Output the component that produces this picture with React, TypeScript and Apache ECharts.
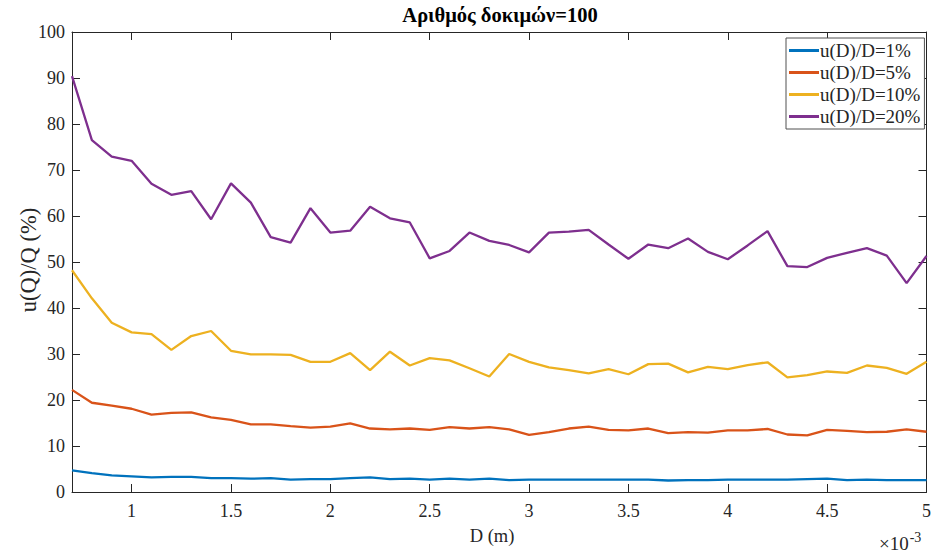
import React, { useEffect, useRef } from "react";
import * as echarts from "echarts";

const xValues = [0.7, 0.8, 0.9, 1.0, 1.1, 1.2, 1.3, 1.4, 1.5, 1.6, 1.7, 1.8, 1.9, 2.0, 2.1, 2.2, 2.3, 2.4, 2.5, 2.6, 2.7, 2.8, 2.9, 3.0, 3.1, 3.2, 3.3, 3.4, 3.5, 3.6, 3.7, 3.8, 3.9, 4.0, 4.1, 4.2, 4.3, 4.4, 4.5, 4.6, 4.7, 4.8, 4.9, 5.0];

const s1 = [4.7, 4.1, 3.6, 3.4, 3.2, 3.3, 3.3, 3.0, 3.0, 2.9, 3.0, 2.7, 2.8, 2.8, 3.0, 3.2, 2.8, 2.9, 2.7, 2.9, 2.7, 2.9, 2.6, 2.7, 2.7, 2.7, 2.7, 2.7, 2.7, 2.7, 2.5, 2.6, 2.6, 2.7, 2.7, 2.7, 2.7, 2.8, 2.9, 2.6, 2.7, 2.6, 2.6, 2.6];
const s5 = [22.2, 19.4, 18.8, 18.1, 16.8, 17.2, 17.3, 16.2, 15.7, 14.7, 14.7, 14.3, 14.0, 14.2, 14.9, 13.8, 13.6, 13.8, 13.5, 14.1, 13.8, 14.1, 13.6, 12.4, 13.0, 13.8, 14.2, 13.5, 13.4, 13.8, 12.8, 13.0, 12.9, 13.4, 13.4, 13.7, 12.5, 12.3, 13.5, 13.3, 13.0, 13.1, 13.6, 13.1];
const s10 = [48.2, 42.1, 36.8, 34.7, 34.3, 30.9, 33.9, 35.0, 30.7, 29.9, 29.9, 29.8, 28.3, 28.3, 30.2, 26.5, 30.5, 27.5, 29.1, 28.6, 26.9, 25.1, 30.0, 28.3, 27.1, 26.5, 25.8, 26.7, 25.6, 27.8, 27.9, 26.0, 27.2, 26.7, 27.6, 28.2, 24.9, 25.4, 26.2, 25.9, 27.5, 27.0, 25.7, 28.3];
const s20 = [90.4, 76.5, 72.9, 72.0, 67.0, 64.6, 65.4, 59.3, 67.1, 62.9, 55.4, 54.2, 61.7, 56.4, 56.8, 62.0, 59.5, 58.6, 50.8, 52.4, 56.4, 54.6, 53.7, 52.1, 56.4, 56.6, 57.0, 53.8, 50.7, 53.8, 53.0, 55.1, 52.2, 50.6, 53.6, 56.7, 49.1, 48.9, 50.9, 52.0, 53.0, 51.4, 45.4, 51.3];

const seriesNames = ["u(D)/D=1%", "u(D)/D=5%", "u(D)/D=10%", "u(D)/D=20%"];
const seriesColors = ["#0072BD", "#D95319", "#EDB120", "#7E2F8E"];
const xTicks = [1, 1.5, 2, 2.5, 3, 3.5, 4, 4.5, 5];
const title = "Αριθμός δοκιμών=100";
const xName = "D (m)";
const yName = "u(Q)/Q (%)";

const FONT = "'Liberation Serif', 'Times New Roman', serif";
const AX = "#262626";

export default function App() {
  const ref = useRef<HTMLDivElement>(null);
  useEffect(() => {
    if (!ref.current) return;
    const chart = echarts.init(ref.current, undefined, { renderer: "svg" });
    const all = [s1, s5, s10, s20];
    const baseX = {
      type: "value" as const,
      min: 0.7,
      max: 5,
      splitLine: { show: false },
      axisLine: { show: true, onZero: false, lineStyle: { color: AX, width: 1 } },
    };
    const baseY = {
      type: "value" as const,
      min: 0,
      max: 100,
      interval: 10,
      splitLine: { show: false },
      axisLine: { show: true, onZero: false, lineStyle: { color: AX, width: 1 } },
      axisTick: { show: true, inside: true, length: 8, lineStyle: { color: AX } },
    };
    chart.setOption({
      animation: false,
      grid: { left: 72, right: 3, top: 32, bottom: 62, containLabel: false },
      legend: {
        orient: "vertical",
        left: 786,
        top: 38,
        icon: "rect",
        itemWidth: 30,
        itemHeight: 3,
        itemGap: 3,
        padding: [3, 4, 3, 3],
        borderColor: "#505050",
        borderWidth: 1,
        backgroundColor: "#fff",
        textStyle: { fontFamily: FONT, fontSize: 19, color: "#262626", padding: [0, 0, 0, -4] },
        data: seriesNames,
      },
      xAxis: [
        {
          ...baseX,
          position: "bottom",
          axisTick: { show: true, inside: true, length: 8, customValues: xTicks, lineStyle: { color: AX } },
          axisLabel: {
            customValues: xTicks,
            fontFamily: FONT,
            fontSize: 18,
            color: "#262626",
            margin: 10,
            formatter: (v: number) => String(v),
          },
        },
        {
          ...baseX,
          position: "top",
          axisTick: { show: true, inside: true, length: 8, customValues: xTicks, lineStyle: { color: AX } },
          axisLabel: { show: false, customValues: xTicks },
        },
      ],
      yAxis: [
        {
          ...baseY,
          position: "left",
          axisLabel: { fontFamily: FONT, fontSize: 18, color: "#262626", margin: 7 },
        },
        {
          ...baseY,
          position: "right",
          axisLabel: { show: false },
        },
      ],
      graphic: [
        {
          type: "text",
          x: 500,
          y: 15,
          style: {
            text: title,
            fontFamily: FONT,
            fontSize: 20.5,
            fontWeight: "bold",
            fill: "#000",
            textAlign: "center",
            textVerticalAlign: "middle",
          },
        },
        {
          type: "text",
          x: 492,
          y: 536,
          style: {
            text: xName,
            fontFamily: FONT,
            fontSize: 18.5,
            fill: "#262626",
            textAlign: "center",
            textVerticalAlign: "middle",
          },
        },
        {
          type: "text",
          x: 28,
          y: 260,
          rotation: Math.PI / 2,
          style: {
            text: yName,
            fontFamily: FONT,
            fontSize: 22.5,
            fill: "#262626",
            textAlign: "center",
            textVerticalAlign: "middle",
          },
        },
        {
          type: "text",
          left: 879,
          top: 530,
          style: {
            text: "{a|×10}{b|-3}",
            rich: {
              a: { fontFamily: FONT, fontSize: 19, fill: "#262626", verticalAlign: "bottom" },
              b: { fontFamily: FONT, fontSize: 14, fill: "#262626", verticalAlign: "top", padding: [0, 0, 9, 1] },
            },
          },
        },
      ],
      series: all.map((vals, i) => ({
        name: seriesNames[i],
        type: "line",
        xAxisIndex: 0,
        yAxisIndex: 0,
        showSymbol: false,
        symbol: "none",
        data: vals.map((v, j) => [xValues[j], v]),
        lineStyle: { color: seriesColors[i], width: 2.3 },
        itemStyle: { color: seriesColors[i] },
      })),
    });
    return () => chart.dispose();
  }, []);
  return <div ref={ref} style={{ width: 934, height: 554, position: "absolute", left: 0, top: 0, background: "#fff" }} />;
}
